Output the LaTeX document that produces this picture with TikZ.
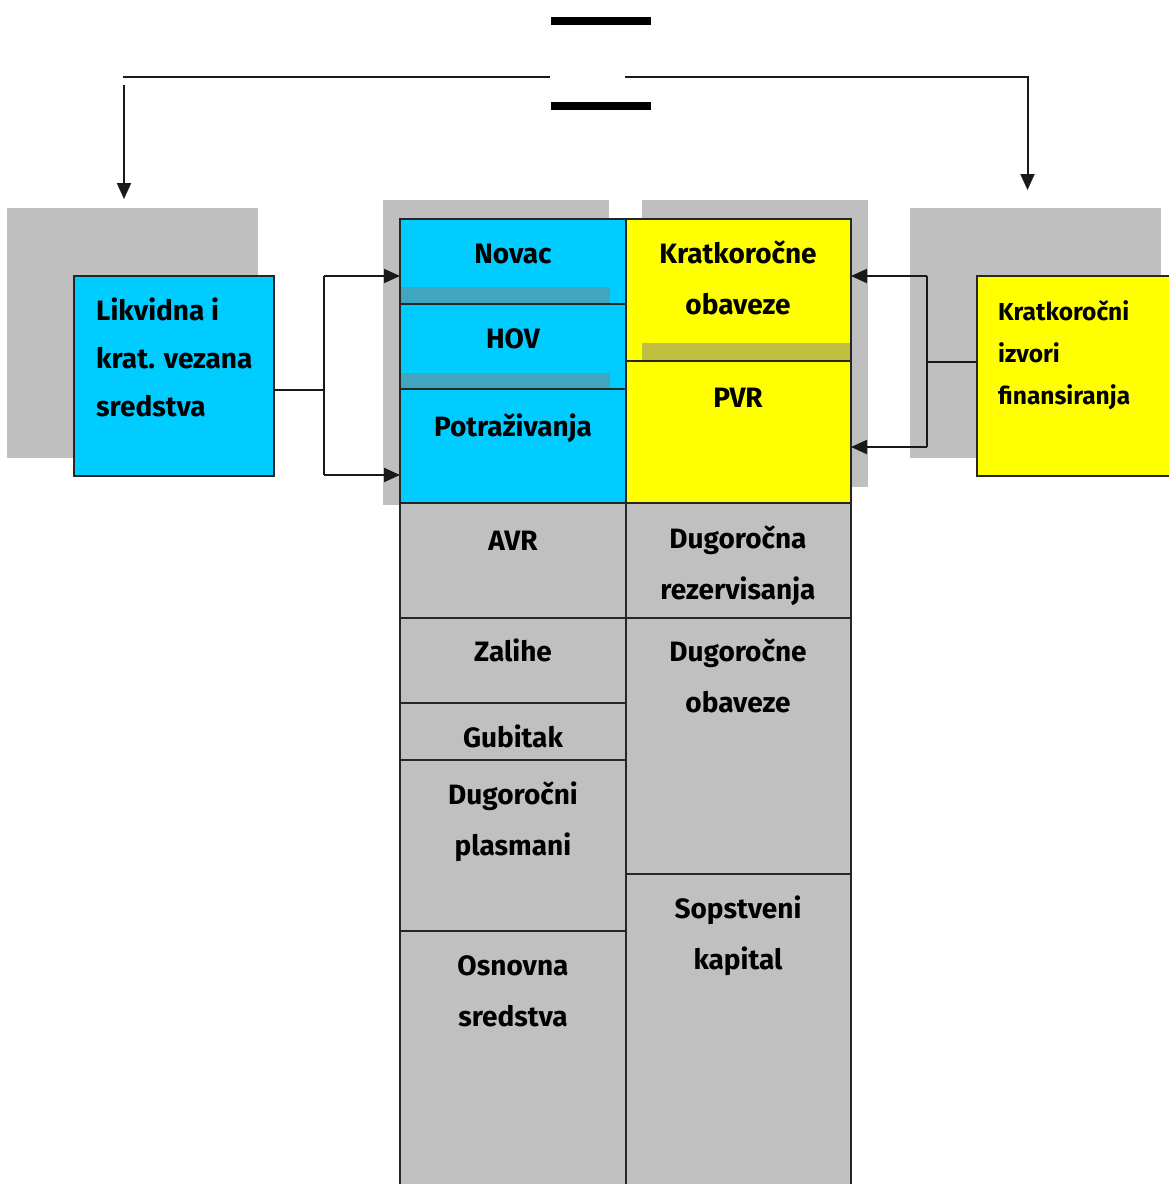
\documentclass[tikz,border=0pt]{standalone}
\usepackage{fontspec}
\setmainfont{Fira Sans}
\usetikzlibrary{arrows.meta}
\definecolor{cy}{HTML}{00CCFF}
\definecolor{yl}{HTML}{FFFF00}
\definecolor{gr}{HTML}{C0C0C0}
\definecolor{sh}{HTML}{BFBFBF}
\definecolor{tealstrip}{HTML}{40A6BF}
\definecolor{olivestrip}{HTML}{BFBF40}
\newcommand\sr{\rule{0pt}{26pt}}
\tikzset{
  cellbox/.style={draw=black!85, line width=2pt, rectangle, inner sep=0pt, outer sep=0pt, anchor=north west},
  shadowbox/.style={fill=sh, rectangle, inner sep=0pt, outer sep=0pt, anchor=north west},
  stripbox/.style={rectangle, inner sep=0pt, outer sep=0pt, anchor=north west},
  lbl/.style={anchor=north, inner sep=0pt, align=center, font=\bfseries\fontsize{28}{51}\selectfont},
  conn/.style={line width=2pt, draw=black!90},
  tip/.style={conn, -{Triangle[length=16pt,width=14pt]}},
  bar/.style={fill=black, rectangle, inner sep=0pt, minimum width=100pt, minimum height=8pt}
}
\begin{document}
\begin{tikzpicture}[x=1pt,y=-1pt]
\clip (0,0) rectangle (1169,1184);
\fill[white] (0,0) rectangle (1169,1184);
% shadows
\node[shadowbox, minimum width=251pt, minimum height=250pt] (lsh) at (7,208) {};
\node[shadowbox, minimum width=226pt, minimum height=305pt] (msh1) at (383,200) {};
\node[shadowbox, minimum width=226pt, minimum height=287pt] (msh2) at (642,200) {};
\node[shadowbox, minimum width=251pt, minimum height=250pt] (rsh) at (910,208) {};
% side boxes
\node[cellbox, fill=cy, minimum width=200pt, minimum height=200pt] (L) at (74,276) {};
\node[cellbox, fill=yl, minimum width=210pt, minimum height=200pt] (R) at (977,276) {};
% left column
\node[cellbox, fill=cy, minimum width=226pt, minimum height=85pt] (novac) at (400,219) {};
\node[cellbox, fill=cy, minimum width=226pt, minimum height=85pt] (hov) at (400,304) {};
\node[cellbox, fill=cy, minimum width=226pt, minimum height=114pt] (potr) at (400,389) {};
\node[cellbox, fill=gr, minimum width=226pt, minimum height=115pt] (avr) at (400,503) {};
\node[cellbox, fill=gr, minimum width=226pt, minimum height=85pt] (zal) at (400,618) {};
\node[cellbox, fill=gr, minimum width=226pt, minimum height=57pt] (gub) at (400,703) {};
\node[cellbox, fill=gr, minimum width=226pt, minimum height=171pt] (dpl) at (400,760) {};
\node[cellbox, fill=gr, minimum width=226pt, minimum height=269pt] (osn) at (400,931) {};
% right column
\node[cellbox, fill=yl, minimum width=225pt, minimum height=142pt] (kro) at (626,219) {};
\node[cellbox, fill=yl, minimum width=225pt, minimum height=142pt] (pvr) at (626,361) {};
\node[cellbox, fill=gr, minimum width=225pt, minimum height=115pt] (drez) at (626,503) {};
\node[cellbox, fill=gr, minimum width=225pt, minimum height=256pt] (dob) at (626,618) {};
\node[cellbox, fill=gr, minimum width=225pt, minimum height=326pt] (kap) at (626,874) {};
% shadow strips seen through the cells
\node[stripbox, fill=tealstrip, minimum width=209pt, minimum height=16pt] (s1) at (401,287) {};
\node[stripbox, fill=tealstrip, minimum width=209pt, minimum height=15pt] (s2) at (401,373) {};
\node[stripbox, fill=olivestrip, minimum width=208pt, minimum height=17pt] (s3) at (642,343) {};
% labels
\node[lbl] (tnovac) at (513,237) {\sr Novac};
\node[lbl] (thov) at (513,322) {\sr HOV};
\node[lbl] (tpotr) at (513,410) {\sr Potraživanja};
\node[lbl] (tavr) at (513,524) {\sr AVR};
\node[lbl] (tzal) at (513,635) {\sr Zalihe};
\node[lbl] (tgub) at (513,721) {\sr Gubitak};
\node[lbl] (tdpl) at (513,778) {\sr Dugoročni\\plasmani};
\node[lbl] (tosn) at (513,949) {\sr Osnovna\\sredstva};
\node[lbl] (tkro) at (738,237) {\sr Kratkoročne\\obaveze};
\node[lbl] (tpvr) at (738,381) {\sr PVR};
\node[lbl] (tdrez) at (738,522) {\sr Dugoročna\\rezervisanja};
\node[lbl] (tdob) at (738,635) {\sr Dugoročne\\obaveze};
\node[lbl] (tkap) at (738,892) {\sr Sopstveni\\kapital};
\node[lbl, anchor=north west, align=left, font=\bfseries\fontsize{28}{48}\selectfont] (tL) at (96,294) {\sr Likvidna i\\krat. vezana\\sredstva};
\node[anchor=north west, inner sep=0pt, align=left, font=\bfseries\fontsize{24.5}{42}\selectfont] (tR) at (998,298) {\rule{0pt}{22pt}Kratkoročni\\izvori\\finansiranja};
% top bars and lines
\node[bar] (bar1) at (601,20.5) {};
\node[bar] (bar2) at (601,105.5) {};
\coordinate (tl) at (123,76.5);
\coordinate (tm1) at (550,76.5);
\coordinate (tm2) at (625,76.5);
\coordinate (tr) at (1027.5,76.5);
\coordinate (la) at (124,85);
\coordinate (lat) at (124,199);
\coordinate (rat) at (1027.5,190);
\draw[conn] (tl) -- (tm1);
\draw[tip] (tm2) -- (tr) -- (rat);
\draw[tip] (la) -- (lat);
% left connectors
\coordinate (lj) at (324,390);
\coordinate (lt) at (324,276);
\coordinate (lb) at (324,475);
\draw[conn] (L.east |- lj) -- (lj);
\draw[conn] (lt) -- (lb);
\draw[tip] (lt) -- (novac.west |- lt);
\draw[tip] (lb) -- (potr.west |- lb);
% right connectors
\coordinate (rj) at (927,362);
\coordinate (rt) at (927,276);
\coordinate (rb) at (927,447);
\draw[conn] (R.west |- rj) -- (rj);
\draw[conn] (rt) -- (rb);
\draw[tip] (rt) -- (kro.east |- rt);
\draw[tip] (rb) -- (pvr.east |- rb);
\end{tikzpicture}
\end{document}
